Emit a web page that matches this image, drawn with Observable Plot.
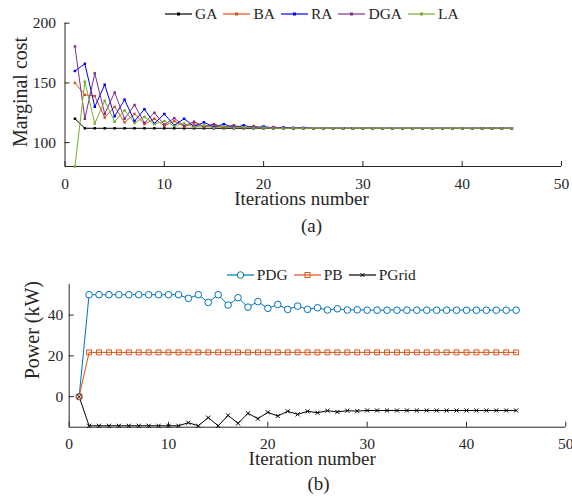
<!DOCTYPE html>
<html><head><meta charset="utf-8">
<script src="https://cdn.jsdelivr.net/npm/d3@7"></script>
<script src="https://cdn.jsdelivr.net/npm/@observablehq/plot@0.6"></script>
<style>
html,body{margin:0;padding:0;background:#fff;}
#root{position:relative;width:572px;height:502px;overflow:hidden;font-family:"Liberation Serif","Times New Roman",serif;color:#262626;}
.chart{position:absolute;left:0;}
.chart text{font-family:"Liberation Serif","Times New Roman",serif;}
.legend{position:absolute;display:flex;align-items:center;font-size:15.5px;height:20px;line-height:20px;white-space:nowrap;color:#262626;}
.legend .item{display:flex;align-items:center;margin-right:6px;}
.legend svg{margin-right:3px;display:block;}
</style></head><body><div id="root"></div><script>
// ---------- data ----------
const iterations = [1,2,3,4,5,6,7,8,9,10,11,12,13,14,15,16,17,18,19,20,21,22,23,24,25,26,27,28,29,30,31,32,33,34,35,36,37,38,39,40,41,42,43,44,45];
const xTicks = [0,10,20,30,40,50];

// (a) marginal cost
const topSeries = ["GA","BA","RA","DGA","LA"];
const topColors = ["#000000","#D95319","#0000FF","#7E2F8E","#77AC30"];
const GA  = [120,112,112,112,112,112,112,112,112,112,112,112,112,112,112,112,112,112,112,112,112,112,112,112,112,112,112,112,112,112,112,112,112,112,112,112,112,112,112,112,112,112,112,112,112];
const BA  = [150,140,139,121,130,117,124,115.5,120,114,118,113.5,116,113,114.5,112.5,113.5,112.3,113,112.2,112.5,112,112,112,112,112,112,112,112,112,112,112,112,112,112,112,112,112,112,112,112,112,112,112,112];
const RA  = [160,166,130,148.5,122,136,118,128,116,124,114.5,120,113.5,117,113,115.5,112.5,114.5,112.3,113.5,112.2,112.8,112,112.4,112,112,112,112,112,112,112,112,112,112,112,112,112,112,112,112,112,112,112,112,112];
const DGA = [180.5,120,158,124,142,120,131.5,116.5,125,115,120.5,114,117.5,113.5,115.5,113,114.5,112.5,113.8,112.3,113,112.2,112.5,112,112,112,112,112,112,112,112,112,112,112,112,112,112,112,112,112,112,112,112,112,112];
const LA  = [80,151,116,135,117.5,127,116.5,121.5,115.5,118,114,116,113,114.5,112.5,113.5,112.3,113,112.2,112.5,112,112,112,112,112,112,112,112,112,112,112,112,112,112,112,112,112,112,112,112,112,112,112,112,112];
const yTicksA = [100,150,200];

// (b) power
const bottomSeries = ["PDG","PB","PGrid"];
const bottomColors = ["#0072BD","#D95319","#000000"];
const PDG   = [0,50,50,50,50,50,50,50,50,50,50,48.2,50,46.2,50,44.9,48.5,43.9,46.6,43.3,45.2,42.8,44.4,42.8,43.6,42.5,43.1,42.5,42.6,42.4,42.4,42.4,42.4,42.4,42.4,42.4,42.4,42.4,42.4,42.4,42.4,42.4,42.4,42.4,42.4];
const PB    = [0,21.7,21.7,21.7,21.7,21.7,21.7,21.7,21.7,21.7,21.7,21.7,21.7,21.7,21.7,21.7,21.7,21.7,21.7,21.7,21.7,21.7,21.7,21.7,21.7,21.7,21.7,21.7,21.7,21.7,21.7,21.7,21.7,21.7,21.7,21.7,21.7,21.7,21.7,21.7,21.7,21.7,21.7,21.7,21.7];
const PGrid = [0,-14.3,-14.3,-14.3,-14.3,-14.3,-14.3,-14.3,-14.3,-14.3,-14.3,-12.8,-14.3,-10.3,-14.3,-9.2,-13.1,-8.2,-10.8,-7.7,-9.5,-7.2,-8.7,-7.2,-7.9,-6.9,-7.5,-6.9,-7.1,-6.8,-6.8,-6.8,-6.8,-6.8,-6.8,-6.8,-6.8,-6.8,-6.8,-6.8,-6.8,-6.8,-6.8,-6.8,-6.8];
const yTicksB = [0,20,40];

// ---------- tables ----------
function toTable(pairs){
  const t = [];
  pairs.forEach(([name, vals]) => vals.forEach((v, i) => t.push({series: name, x: iterations[i], y: v})));
  return t;
}
const topTable = toTable([["GA",GA],["BA",BA],["RA",RA],["DGA",DGA],["LA",LA]]);
const bottomTable = toTable([["PDG",PDG],["PB",PB],["PGrid",PGrid]]);

const ink = "#262626";
const font = "Liberation Serif";
const svgStyle = "font-family: 'Liberation Serif', 'Times New Roman', serif; font-size: 15.5px; color: #262626; background: transparent; overflow: visible;";
const root = document.getElementById("root");
const label = (txt, opts) => Plot.text([txt], {text: d => d, textAnchor: "middle", lineAnchor: "middle", fill: ink, fontFamily: font, ...opts});

function fixTicks(svg){
  svg.querySelectorAll("g[aria-label$='tick label']").forEach(g => {
    g.setAttribute("font-size", "15.5");
    g.setAttribute("font-family", font);
    g.style.fontSize = "15.5px";
    g.style.fontFamily = "'Liberation Serif', serif";
    g.setAttribute("fill", ink);
  });
}

// ---------- chart (a) ----------
const plotA = Plot.plot({
  width: 572, height: 240,
  marginLeft: 64.5, marginRight: 11, marginTop: 22.7, marginBottom: 74,
  style: svgStyle,
  x: {domain: [0, 50]},
  y: {domain: [80, 200]},
  color: {domain: topSeries, range: topColors},
  marks: [
    Plot.ruleX([0], {stroke: ink}),
    Plot.ruleY([80], {stroke: ink}),
    Plot.axisX({ticks: xTicks, tickSize: -5, tickPadding: 16, label: null, stroke: ink, fontSize: 15.5, fontFamily: font}),
    Plot.axisY({ticks: yTicksA, tickSize: -5, tickPadding: 14, label: null, stroke: ink, fontSize: 15.5, fontFamily: font}),
    Plot.line(topTable, {x: "x", y: "y", z: "series", stroke: "series", strokeWidth: 1}),
    Plot.dot(topTable, {x: "x", y: "y", fill: "series", r: 1.4, symbol: "square"}),
    label("Marginal cost", {frameAnchor: "left", rotate: -90, dx: -44.5, dy: -2.9, fontSize: 20}),
    label("Iterations number", {frameAnchor: "bottom", dx: -11.75, dy: 32.9, fontSize: 19}),
    label("(a)", {frameAnchor: "bottom", dx: -1.75, dy: 59.6, fontSize: 19})
  ]
});
plotA.classList.add("chart");
plotA.style.top = "0px";
fixTicks(plotA);
root.appendChild(plotA);

// ---------- chart (b) ----------
const plotB = Plot.plot({
  width: 572, height: 252,
  marginLeft: 68.7, marginRight: 6.7, marginTop: 34, marginBottom: 75.3,
  style: svgStyle,
  x: {domain: [0, 50]},
  y: {domain: [-15, 55]},
  color: {domain: bottomSeries, range: bottomColors},
  marks: [
    Plot.ruleX([0], {stroke: ink}),
    Plot.ruleY([-15], {stroke: ink}),
    Plot.axisX({ticks: xTicks, tickSize: -5, tickPadding: 16, label: null, stroke: ink, fontSize: 15.5, fontFamily: font}),
    Plot.axisY({ticks: yTicksB, tickSize: -5, tickPadding: 11, label: null, stroke: ink, fontSize: 15.5, fontFamily: font}),
    Plot.line(bottomTable, {x: "x", y: "y", z: "series", stroke: "series", strokeWidth: 1}),
    Plot.dot(bottomTable, {filter: d => d.series === "PDG", x: "x", y: "y", stroke: "series", fill: "white", r: 3.3, symbol: "circle", strokeWidth: 1}),
    Plot.dot(bottomTable, {filter: d => d.series === "PB", x: "x", y: "y", stroke: "series", fill: "none", r: 2.8, symbol: "square", strokeWidth: 1}),
    Plot.dot(bottomTable, {filter: d => d.series === "PGrid", x: "x", y: "y", stroke: "series", r: 2, symbol: "times", strokeWidth: 1}),
    label("Power (kW)", {frameAnchor: "left", rotate: -90, dx: -36.7, dy: -25.7, fontSize: 20}),
    label("Iteration number", {frameAnchor: "bottom", dx: -5.3, dy: 32.2, fontSize: 19}),
    label("(b)", {frameAnchor: "bottom", dx: 1, dy: 57.2, fontSize: 19})
  ]
});
plotB.classList.add("chart");
plotB.style.top = "250px";
fixTicks(plotB);
root.appendChild(plotB);

// ---------- legends ----------
function swatch(color, kind){
  const ns = "http://www.w3.org/2000/svg";
  const s = document.createElementNS(ns, "svg");
  s.setAttribute("width", 27); s.setAttribute("height", 10);
  const l = document.createElementNS(ns, "line");
  l.setAttribute("x1", 0); l.setAttribute("x2", 27); l.setAttribute("y1", 5); l.setAttribute("y2", 5);
  l.setAttribute("stroke", color); l.setAttribute("stroke-width", 1.2);
  s.appendChild(l);
  let m;
  if (kind === "dot") {
    m = document.createElementNS(ns, "rect");
    m.setAttribute("x", 12); m.setAttribute("y", 3.5); m.setAttribute("width", 3); m.setAttribute("height", 3);
    m.setAttribute("fill", color);
  } else if (kind === "circle") {
    m = document.createElementNS(ns, "circle");
    m.setAttribute("cx", 13.5); m.setAttribute("cy", 5); m.setAttribute("r", 3.3);
    m.setAttribute("fill", "white"); m.setAttribute("stroke", color);
  } else if (kind === "square") {
    m = document.createElementNS(ns, "rect");
    m.setAttribute("x", 11); m.setAttribute("y", 2.5); m.setAttribute("width", 5); m.setAttribute("height", 5);
    m.setAttribute("fill", "none"); m.setAttribute("stroke", color);
  } else {
    m = document.createElementNS(ns, "path");
    m.setAttribute("d", "M11.5,3L15.5,7M15.5,3L11.5,7");
    m.setAttribute("stroke", color);
  }
  s.appendChild(m);
  return s;
}
function legend(names, colors, kinds, left, top){
  const d = document.createElement("div");
  d.className = "legend";
  d.style.left = left + "px"; d.style.top = top + "px";
  names.forEach((n, i) => {
    const it = document.createElement("div");
    it.className = "item";
    it.appendChild(swatch(colors[i], kinds[i]));
    const sp = document.createElement("span");
    sp.textContent = n;
    it.appendChild(sp);
    d.appendChild(it);
  });
  root.appendChild(d);
}
legend(topSeries, topColors, ["dot","dot","dot","dot","dot"], 165, 3.7);
legend(bottomSeries, bottomColors, ["circle","square","times"], 226.7, 265);
</script></body></html>
